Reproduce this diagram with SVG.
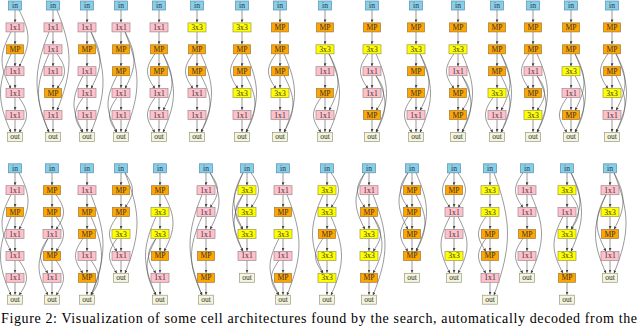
<svg xmlns="http://www.w3.org/2000/svg" xmlns:xlink="http://www.w3.org/1999/xlink" width="640" height="326" viewBox="0 0 640 326">
<style>
.i{fill:#87ceeb;stroke:#5a8fab}
.p{fill:#ffc0cb;stroke:#9a8a8e}
.m{fill:#ffa500;stroke:#9a7a3a}
.y{fill:#ffff00;stroke:#9a9a50}
.o{fill:#f5f5dc;stroke:#9a9a86}
.i,.p,.m,.y,.o{stroke-width:0.7}
text{font-family:"Liberation Serif","Times New Roman",serif;font-size:7.6px;text-anchor:middle;fill:#333;stroke:none}
.e{fill:none;stroke:#555;stroke-width:0.6;marker-end:url(#ah)}
.cap{font-size:14px;text-anchor:start;fill:#000}
</style>
<defs>
<marker id="ah" viewBox="0 0 6 6" refX="6" refY="3" markerWidth="3" markerHeight="3" markerUnits="userSpaceOnUse" orient="auto"><path d="M0,0L6,3L0,6z" fill="#444"/></marker>
<rect id="ri" x="-6.5" y="-4.5" width="13" height="9"/>
<rect id="rp" x="-9" y="-4.5" width="18" height="9"/>
<rect id="rm" x="-8.5" y="-4.5" width="17" height="9"/>
<rect id="ry" x="-9" y="-4.5" width="18" height="9"/>
<rect id="ro" x="-7.5" y="-4.5" width="15" height="9"/>
<path id="a0" class="e" d="M0 4.5V16.9"/>
<path id="a1" class="e" d="M0 26.4V38.8"/>
<path id="a2" class="e" d="M0 48.3V60.7"/>
<path id="a3" class="e" d="M0 70.2V82.6"/>
<path id="a4" class="e" d="M0 92.1V104.5"/>
<path id="a5" class="e" d="M0 114V126.4"/>
<g id="ch7"><use href="#a0"/><use href="#a1"/><use href="#a2"/><use href="#a3"/><use href="#a4"/><use href="#a5"/></g>
<g id="ch6"><use href="#a0"/><use href="#a1"/><use href="#a2"/><use href="#a3"/><use href="#a4"/></g>
<path id="R02" class="e" d="M4 4.5C14 18.4 14 25.4 4 39.3"/>
<path id="R03" class="e" d="M4 4.5C16 27.2 16 38.5 4 61.2"/>
<path id="R04" class="e" d="M4 4.5C18 35.9 18 51.7 4 83.1"/>
<path id="R05" class="e" d="M4 4.5C20 44.7 20 64.8 4 105"/>
<path id="R06" class="e" d="M4 4.5C22 53.5 22 77.9 4 126.9"/>
<path id="R13" class="e" d="M4 26.4C14 40.3 14 47.3 4 61.2"/>
<path id="R14" class="e" d="M4 26.4C16 49.1 16 60.4 4 83.1"/>
<path id="R15" class="e" d="M4 26.4C18 57.8 18 73.6 4 105"/>
<path id="R16" class="e" d="M4 26.4C20 66.6 20 86.7 4 126.9"/>
<path id="R24" class="e" d="M4 48.3C14 62.2 14 69.2 4 83.1"/>
<path id="R25" class="e" d="M4 48.3C16 71 16 82.3 4 105"/>
<path id="R26" class="e" d="M4 48.3C18 79.7 18 95.5 4 126.9"/>
<path id="R35" class="e" d="M4 70.2C14 84.1 14 91.1 4 105"/>
<path id="R36" class="e" d="M4 70.2C16 92.9 16 104.2 4 126.9"/>
<path id="R46" class="e" d="M4 92.1C14 106 14 113 4 126.9"/>
<path id="L02" class="e" d="M-4 4.5C-14 18.4 -14 25.4 -4 39.3"/>
<path id="L03" class="e" d="M-4 4.5C-16 27.2 -16 38.5 -4 61.2"/>
<path id="L04" class="e" d="M-4 4.5C-18 35.9 -18 51.7 -4 83.1"/>
<path id="L13" class="e" d="M-4 26.4C-14 40.3 -14 47.3 -4 61.2"/>
<path id="L14" class="e" d="M-4 26.4C-16 49.1 -16 60.4 -4 83.1"/>
<path id="L15" class="e" d="M-4 26.4C-18 57.8 -18 73.6 -4 105"/>
<path id="L16" class="e" d="M-4 26.4C-20 66.6 -20 86.7 -4 126.9"/>
<path id="L24" class="e" d="M-4 48.3C-14 62.2 -14 69.2 -4 83.1"/>
<path id="L25" class="e" d="M-4 48.3C-16 71 -16 82.3 -4 105"/>
<path id="L26" class="e" d="M-4 48.3C-18 79.7 -18 95.5 -4 126.9"/>
<path id="L35" class="e" d="M-4 70.2C-14 84.1 -14 91.1 -4 105"/>
<path id="L36" class="e" d="M-4 70.2C-16 92.9 -16 104.2 -4 126.9"/>
<path id="L46" class="e" d="M-4 92.1C-14 106 -14 113 -4 126.9"/>
</defs>
<rect width="640" height="326" fill="#fff"/>
<g id="connectors">
<g transform="translate(15,5.5)"><use href="#ch7"/><use href="#R03"/><use href="#L14"/><use href="#L26"/><use href="#R46"/></g>
<g transform="translate(53,5.5)"><use href="#ch7"/><use href="#L16"/><use href="#L26"/><use href="#R24"/><use href="#R05"/></g>
<g transform="translate(87,5.5)"><use href="#ch7"/><use href="#R14"/><use href="#R16"/><use href="#L36"/><use href="#L46"/></g>
<g transform="translate(121,5.5)"><use href="#ch7"/><use href="#R14"/><use href="#R16"/><use href="#L36"/><use href="#L46"/></g>
<g transform="translate(159,5.5)"><use href="#ch7"/><use href="#L24"/><use href="#R25"/><use href="#R26"/><use href="#L46"/></g>
<g transform="translate(197,5.5)"><use href="#ch7"/><use href="#L24"/><use href="#R26"/><use href="#R36"/></g>
<g transform="translate(242,5.5)"><use href="#ch7"/><use href="#L24"/><use href="#R26"/><use href="#R36"/></g>
<g transform="translate(280,5.5)"><use href="#ch7"/><use href="#L24"/><use href="#R26"/><use href="#R36"/></g>
<g transform="translate(325,5.5)"><use href="#ch7"/><use href="#R25"/><use href="#R26"/><use href="#L46"/></g>
<g transform="translate(372,5.5)"><use href="#ch7"/><use href="#L24"/><use href="#R26"/><use href="#R35"/><use href="#R36"/></g>
<g transform="translate(416,5.5)"><use href="#ch7"/><use href="#R25"/><use href="#R26"/><use href="#L46"/></g>
<g transform="translate(458,5.5)"><use href="#ch7"/><use href="#L24"/><use href="#R35"/><use href="#R36"/><use href="#R26"/></g>
<g transform="translate(497,5.5)"><use href="#ch7"/><use href="#R25"/><use href="#R26"/><use href="#R36"/><use href="#L46"/></g>
<g transform="translate(533,5.5)"><use href="#ch7"/><use href="#L24"/><use href="#R35"/><use href="#R36"/><use href="#R26"/></g>
<g transform="translate(571,5.5)"><use href="#ch7"/><use href="#R25"/><use href="#R26"/><use href="#R36"/><use href="#L46"/></g>
<g transform="translate(612,5.5)"><use href="#ch7"/><use href="#L24"/><use href="#R25"/><use href="#R26"/><use href="#R36"/></g>
<g transform="translate(15,168.3)"><use href="#ch7"/><use href="#R03"/><use href="#L14"/><use href="#L26"/><use href="#R46"/></g>
<g transform="translate(52,168.3)"><use href="#ch7"/><use href="#R13"/><use href="#R24"/><use href="#L35"/><use href="#R46"/><use href="#L36"/></g>
<g transform="translate(87,168.3)"><use href="#ch7"/><use href="#R16"/><use href="#R26"/><use href="#L35"/><use href="#R46"/></g>
<g transform="translate(121,168.3)"><use href="#ch6"/><use href="#R02"/><use href="#R05"/><use href="#L24"/><use href="#L35"/></g>
<g transform="translate(160,168.3)"><use href="#ch7"/><use href="#R14"/><use href="#L35"/><use href="#L36"/><use href="#L26"/></g>
<g transform="translate(206,168.3)"><use href="#ch7"/><use href="#R02"/><use href="#R03"/><use href="#L16"/><use href="#L26"/></g>
<g transform="translate(247,168.3)"><use href="#ch6"/><use href="#R02"/><use href="#L03"/><use href="#L04"/><use href="#L13"/><use href="#L14"/></g>
<g transform="translate(283,168.3)"><use href="#ch7"/><use href="#R16"/><use href="#L46"/><use href="#L36"/></g>
<g transform="translate(327,168.3)"><use href="#ch7"/><use href="#R02"/><use href="#L15"/><use href="#L35"/><use href="#R26"/></g>
<g transform="translate(369,168.3)"><use href="#ch7"/><use href="#L02"/><use href="#L03"/><use href="#R16"/><use href="#R24"/><use href="#R25"/></g>
<g transform="translate(412,168.3)"><use href="#ch6"/><use href="#L02"/><use href="#L03"/><use href="#R04"/><use href="#R14"/><use href="#L24"/></g>
<g transform="translate(454,168.3)"><use href="#ch6"/><use href="#L02"/><use href="#R02"/><use href="#L25"/><use href="#R25"/></g>
<g transform="translate(490,168.3)"><use href="#ch7"/><use href="#R06"/><use href="#L35"/><use href="#L24"/></g>
<g transform="translate(527,168.3)"><use href="#ch6"/><use href="#L02"/><use href="#R15"/><use href="#L35"/></g>
<g transform="translate(567,168.3)"><use href="#ch7"/><use href="#R03"/><use href="#R04"/><use href="#R13"/><use href="#L25"/></g>
<g transform="translate(610,168.3)"><use href="#ch6"/><use href="#R03"/><use href="#R05"/><use href="#L14"/><use href="#L15"/></g>
</g>
<g id="nodes">
<g id="T1" transform="translate(15,5.5)">
<g id="T1n0" class="i"><use href="#ri"/><text y="2.5">in</text></g>
<g id="T1n1" class="p" transform="translate(0,21.9)"><use href="#rp"/><text y="2.5">1x1</text></g>
<g id="T1n2" class="m" transform="translate(0,43.8)"><use href="#rm"/><text y="2.5">MP</text></g>
<g id="T1n3" class="p" transform="translate(0,65.7)"><use href="#rp"/><text y="2.5">1x1</text></g>
<g id="T1n4" class="p" transform="translate(0,87.6)"><use href="#rp"/><text y="2.5">1x1</text></g>
<g id="T1n5" class="p" transform="translate(0,109.5)"><use href="#rp"/><text y="2.5">1x1</text></g>
<g id="T1n6" class="o" transform="translate(0,131.4)"><use href="#ro"/><text y="2.5">out</text></g>
</g>
<g id="T2" transform="translate(53,5.5)">
<g id="T2n0" class="i"><use href="#ri"/><text y="2.5">in</text></g>
<g id="T2n1" class="p" transform="translate(0,21.9)"><use href="#rp"/><text y="2.5">1x1</text></g>
<g id="T2n2" class="p" transform="translate(0,43.8)"><use href="#rp"/><text y="2.5">1x1</text></g>
<g id="T2n3" class="p" transform="translate(0,65.7)"><use href="#rp"/><text y="2.5">1x1</text></g>
<g id="T2n4" class="m" transform="translate(0,87.6)"><use href="#rm"/><text y="2.5">MP</text></g>
<g id="T2n5" class="p" transform="translate(0,109.5)"><use href="#rp"/><text y="2.5">1x1</text></g>
<g id="T2n6" class="o" transform="translate(0,131.4)"><use href="#ro"/><text y="2.5">out</text></g>
</g>
<g id="T3" transform="translate(87,5.5)">
<g id="T3n0" class="i"><use href="#ri"/><text y="2.5">in</text></g>
<g id="T3n1" class="p" transform="translate(0,21.9)"><use href="#rp"/><text y="2.5">1x1</text></g>
<g id="T3n2" class="m" transform="translate(0,43.8)"><use href="#rm"/><text y="2.5">MP</text></g>
<g id="T3n3" class="p" transform="translate(0,65.7)"><use href="#rp"/><text y="2.5">1x1</text></g>
<g id="T3n4" class="p" transform="translate(0,87.6)"><use href="#rp"/><text y="2.5">1x1</text></g>
<g id="T3n5" class="p" transform="translate(0,109.5)"><use href="#rp"/><text y="2.5">1x1</text></g>
<g id="T3n6" class="o" transform="translate(0,131.4)"><use href="#ro"/><text y="2.5">out</text></g>
</g>
<g id="T4" transform="translate(121,5.5)">
<g id="T4n0" class="i"><use href="#ri"/><text y="2.5">in</text></g>
<g id="T4n1" class="p" transform="translate(0,21.9)"><use href="#rp"/><text y="2.5">1x1</text></g>
<g id="T4n2" class="m" transform="translate(0,43.8)"><use href="#rm"/><text y="2.5">MP</text></g>
<g id="T4n3" class="m" transform="translate(0,65.7)"><use href="#rm"/><text y="2.5">MP</text></g>
<g id="T4n4" class="p" transform="translate(0,87.6)"><use href="#rp"/><text y="2.5">1x1</text></g>
<g id="T4n5" class="p" transform="translate(0,109.5)"><use href="#rp"/><text y="2.5">1x1</text></g>
<g id="T4n6" class="o" transform="translate(0,131.4)"><use href="#ro"/><text y="2.5">out</text></g>
</g>
<g id="T5" transform="translate(159,5.5)">
<g id="T5n0" class="i"><use href="#ri"/><text y="2.5">in</text></g>
<g id="T5n1" class="p" transform="translate(0,21.9)"><use href="#rp"/><text y="2.5">1x1</text></g>
<g id="T5n2" class="m" transform="translate(0,43.8)"><use href="#rm"/><text y="2.5">MP</text></g>
<g id="T5n3" class="m" transform="translate(0,65.7)"><use href="#rm"/><text y="2.5">MP</text></g>
<g id="T5n4" class="p" transform="translate(0,87.6)"><use href="#rp"/><text y="2.5">1x1</text></g>
<g id="T5n5" class="p" transform="translate(0,109.5)"><use href="#rp"/><text y="2.5">1x1</text></g>
<g id="T5n6" class="o" transform="translate(0,131.4)"><use href="#ro"/><text y="2.5">out</text></g>
</g>
<g id="T6" transform="translate(197,5.5)">
<g id="T6n0" class="i"><use href="#ri"/><text y="2.5">in</text></g>
<g id="T6n1" class="y" transform="translate(0,21.9)"><use href="#ry"/><text y="2.5">3x3</text></g>
<g id="T6n2" class="m" transform="translate(0,43.8)"><use href="#rm"/><text y="2.5">MP</text></g>
<g id="T6n3" class="m" transform="translate(0,65.7)"><use href="#rm"/><text y="2.5">MP</text></g>
<g id="T6n4" class="p" transform="translate(0,87.6)"><use href="#rp"/><text y="2.5">1x1</text></g>
<g id="T6n5" class="p" transform="translate(0,109.5)"><use href="#rp"/><text y="2.5">1x1</text></g>
<g id="T6n6" class="o" transform="translate(0,131.4)"><use href="#ro"/><text y="2.5">out</text></g>
</g>
<g id="T7" transform="translate(242,5.5)">
<g id="T7n0" class="i"><use href="#ri"/><text y="2.5">in</text></g>
<g id="T7n1" class="y" transform="translate(0,21.9)"><use href="#ry"/><text y="2.5">3x3</text></g>
<g id="T7n2" class="m" transform="translate(0,43.8)"><use href="#rm"/><text y="2.5">MP</text></g>
<g id="T7n3" class="m" transform="translate(0,65.7)"><use href="#rm"/><text y="2.5">MP</text></g>
<g id="T7n4" class="y" transform="translate(0,87.6)"><use href="#ry"/><text y="2.5">3x3</text></g>
<g id="T7n5" class="p" transform="translate(0,109.5)"><use href="#rp"/><text y="2.5">1x1</text></g>
<g id="T7n6" class="o" transform="translate(0,131.4)"><use href="#ro"/><text y="2.5">out</text></g>
</g>
<g id="T8" transform="translate(280,5.5)">
<g id="T8n0" class="i"><use href="#ri"/><text y="2.5">in</text></g>
<g id="T8n1" class="m" transform="translate(0,21.9)"><use href="#rm"/><text y="2.5">MP</text></g>
<g id="T8n2" class="m" transform="translate(0,43.8)"><use href="#rm"/><text y="2.5">MP</text></g>
<g id="T8n3" class="m" transform="translate(0,65.7)"><use href="#rm"/><text y="2.5">MP</text></g>
<g id="T8n4" class="y" transform="translate(0,87.6)"><use href="#ry"/><text y="2.5">3x3</text></g>
<g id="T8n5" class="p" transform="translate(0,109.5)"><use href="#rp"/><text y="2.5">1x1</text></g>
<g id="T8n6" class="o" transform="translate(0,131.4)"><use href="#ro"/><text y="2.5">out</text></g>
</g>
<g id="T9" transform="translate(325,5.5)">
<g id="T9n0" class="i"><use href="#ri"/><text y="2.5">in</text></g>
<g id="T9n1" class="m" transform="translate(0,21.9)"><use href="#rm"/><text y="2.5">MP</text></g>
<g id="T9n2" class="y" transform="translate(0,43.8)"><use href="#ry"/><text y="2.5">3x3</text></g>
<g id="T9n3" class="p" transform="translate(0,65.7)"><use href="#rp"/><text y="2.5">1x1</text></g>
<g id="T9n4" class="m" transform="translate(0,87.6)"><use href="#rm"/><text y="2.5">MP</text></g>
<g id="T9n5" class="p" transform="translate(0,109.5)"><use href="#rp"/><text y="2.5">1x1</text></g>
<g id="T9n6" class="o" transform="translate(0,131.4)"><use href="#ro"/><text y="2.5">out</text></g>
</g>
<g id="T10" transform="translate(372,5.5)">
<g id="T10n0" class="i"><use href="#ri"/><text y="2.5">in</text></g>
<g id="T10n1" class="m" transform="translate(0,21.9)"><use href="#rm"/><text y="2.5">MP</text></g>
<g id="T10n2" class="y" transform="translate(0,43.8)"><use href="#ry"/><text y="2.5">3x3</text></g>
<g id="T10n3" class="p" transform="translate(0,65.7)"><use href="#rp"/><text y="2.5">1x1</text></g>
<g id="T10n4" class="p" transform="translate(0,87.6)"><use href="#rp"/><text y="2.5">1x1</text></g>
<g id="T10n5" class="m" transform="translate(0,109.5)"><use href="#rm"/><text y="2.5">MP</text></g>
<g id="T10n6" class="o" transform="translate(0,131.4)"><use href="#ro"/><text y="2.5">out</text></g>
</g>
<g id="T11" transform="translate(416,5.5)">
<g id="T11n0" class="i"><use href="#ri"/><text y="2.5">in</text></g>
<g id="T11n1" class="m" transform="translate(0,21.9)"><use href="#rm"/><text y="2.5">MP</text></g>
<g id="T11n2" class="y" transform="translate(0,43.8)"><use href="#ry"/><text y="2.5">3x3</text></g>
<g id="T11n3" class="m" transform="translate(0,65.7)"><use href="#rm"/><text y="2.5">MP</text></g>
<g id="T11n4" class="m" transform="translate(0,87.6)"><use href="#rm"/><text y="2.5">MP</text></g>
<g id="T11n5" class="p" transform="translate(0,109.5)"><use href="#rp"/><text y="2.5">1x1</text></g>
<g id="T11n6" class="o" transform="translate(0,131.4)"><use href="#ro"/><text y="2.5">out</text></g>
</g>
<g id="T12" transform="translate(458,5.5)">
<g id="T12n0" class="i"><use href="#ri"/><text y="2.5">in</text></g>
<g id="T12n1" class="m" transform="translate(0,21.9)"><use href="#rm"/><text y="2.5">MP</text></g>
<g id="T12n2" class="y" transform="translate(0,43.8)"><use href="#ry"/><text y="2.5">3x3</text></g>
<g id="T12n3" class="p" transform="translate(0,65.7)"><use href="#rp"/><text y="2.5">1x1</text></g>
<g id="T12n4" class="m" transform="translate(0,87.6)"><use href="#rm"/><text y="2.5">MP</text></g>
<g id="T12n5" class="m" transform="translate(0,109.5)"><use href="#rm"/><text y="2.5">MP</text></g>
<g id="T12n6" class="o" transform="translate(0,131.4)"><use href="#ro"/><text y="2.5">out</text></g>
</g>
<g id="T13" transform="translate(497,5.5)">
<g id="T13n0" class="i"><use href="#ri"/><text y="2.5">in</text></g>
<g id="T13n1" class="m" transform="translate(0,21.9)"><use href="#rm"/><text y="2.5">MP</text></g>
<g id="T13n2" class="m" transform="translate(0,43.8)"><use href="#rm"/><text y="2.5">MP</text></g>
<g id="T13n3" class="m" transform="translate(0,65.7)"><use href="#rm"/><text y="2.5">MP</text></g>
<g id="T13n4" class="y" transform="translate(0,87.6)"><use href="#ry"/><text y="2.5">3x3</text></g>
<g id="T13n5" class="p" transform="translate(0,109.5)"><use href="#rp"/><text y="2.5">1x1</text></g>
<g id="T13n6" class="o" transform="translate(0,131.4)"><use href="#ro"/><text y="2.5">out</text></g>
</g>
<g id="T14" transform="translate(533,5.5)">
<g id="T14n0" class="i"><use href="#ri"/><text y="2.5">in</text></g>
<g id="T14n1" class="m" transform="translate(0,21.9)"><use href="#rm"/><text y="2.5">MP</text></g>
<g id="T14n2" class="m" transform="translate(0,43.8)"><use href="#rm"/><text y="2.5">MP</text></g>
<g id="T14n3" class="p" transform="translate(0,65.7)"><use href="#rp"/><text y="2.5">1x1</text></g>
<g id="T14n4" class="m" transform="translate(0,87.6)"><use href="#rm"/><text y="2.5">MP</text></g>
<g id="T14n5" class="y" transform="translate(0,109.5)"><use href="#ry"/><text y="2.5">3x3</text></g>
<g id="T14n6" class="o" transform="translate(0,131.4)"><use href="#ro"/><text y="2.5">out</text></g>
</g>
<g id="T15" transform="translate(571,5.5)">
<g id="T15n0" class="i"><use href="#ri"/><text y="2.5">in</text></g>
<g id="T15n1" class="m" transform="translate(0,21.9)"><use href="#rm"/><text y="2.5">MP</text></g>
<g id="T15n2" class="m" transform="translate(0,43.8)"><use href="#rm"/><text y="2.5">MP</text></g>
<g id="T15n3" class="y" transform="translate(0,65.7)"><use href="#ry"/><text y="2.5">3x3</text></g>
<g id="T15n4" class="p" transform="translate(0,87.6)"><use href="#rp"/><text y="2.5">1x1</text></g>
<g id="T15n5" class="m" transform="translate(0,109.5)"><use href="#rm"/><text y="2.5">MP</text></g>
<g id="T15n6" class="o" transform="translate(0,131.4)"><use href="#ro"/><text y="2.5">out</text></g>
</g>
<g id="T16" transform="translate(612,5.5)">
<g id="T16n0" class="i"><use href="#ri"/><text y="2.5">in</text></g>
<g id="T16n1" class="m" transform="translate(0,21.9)"><use href="#rm"/><text y="2.5">MP</text></g>
<g id="T16n2" class="m" transform="translate(0,43.8)"><use href="#rm"/><text y="2.5">MP</text></g>
<g id="T16n3" class="m" transform="translate(0,65.7)"><use href="#rm"/><text y="2.5">MP</text></g>
<g id="T16n4" class="y" transform="translate(0,87.6)"><use href="#ry"/><text y="2.5">3x3</text></g>
<g id="T16n5" class="p" transform="translate(0,109.5)"><use href="#rp"/><text y="2.5">1x1</text></g>
<g id="T16n6" class="o" transform="translate(0,131.4)"><use href="#ro"/><text y="2.5">out</text></g>
</g>
<g id="B1" transform="translate(15,168.3)">
<g id="B1n0" class="i"><use href="#ri"/><text y="2.5">in</text></g>
<g id="B1n1" class="p" transform="translate(0,21.9)"><use href="#rp"/><text y="2.5">1x1</text></g>
<g id="B1n2" class="m" transform="translate(0,43.8)"><use href="#rm"/><text y="2.5">MP</text></g>
<g id="B1n3" class="p" transform="translate(0,65.7)"><use href="#rp"/><text y="2.5">1x1</text></g>
<g id="B1n4" class="p" transform="translate(0,87.6)"><use href="#rp"/><text y="2.5">1x1</text></g>
<g id="B1n5" class="p" transform="translate(0,109.5)"><use href="#rp"/><text y="2.5">1x1</text></g>
<g id="B1n6" class="o" transform="translate(0,131.4)"><use href="#ro"/><text y="2.5">out</text></g>
</g>
<g id="B2" transform="translate(52,168.3)">
<g id="B2n0" class="i"><use href="#ri"/><text y="2.5">in</text></g>
<g id="B2n1" class="m" transform="translate(0,21.9)"><use href="#rm"/><text y="2.5">MP</text></g>
<g id="B2n2" class="m" transform="translate(0,43.8)"><use href="#rm"/><text y="2.5">MP</text></g>
<g id="B2n3" class="p" transform="translate(0,65.7)"><use href="#rp"/><text y="2.5">1x1</text></g>
<g id="B2n4" class="m" transform="translate(0,87.6)"><use href="#rm"/><text y="2.5">MP</text></g>
<g id="B2n5" class="p" transform="translate(0,109.5)"><use href="#rp"/><text y="2.5">1x1</text></g>
<g id="B2n6" class="o" transform="translate(0,131.4)"><use href="#ro"/><text y="2.5">out</text></g>
</g>
<g id="B3" transform="translate(87,168.3)">
<g id="B3n0" class="i"><use href="#ri"/><text y="2.5">in</text></g>
<g id="B3n1" class="p" transform="translate(0,21.9)"><use href="#rp"/><text y="2.5">1x1</text></g>
<g id="B3n2" class="m" transform="translate(0,43.8)"><use href="#rm"/><text y="2.5">MP</text></g>
<g id="B3n3" class="m" transform="translate(0,65.7)"><use href="#rm"/><text y="2.5">MP</text></g>
<g id="B3n4" class="p" transform="translate(0,87.6)"><use href="#rp"/><text y="2.5">1x1</text></g>
<g id="B3n5" class="m" transform="translate(0,109.5)"><use href="#rm"/><text y="2.5">MP</text></g>
<g id="B3n6" class="o" transform="translate(0,131.4)"><use href="#ro"/><text y="2.5">out</text></g>
</g>
<g id="B4" transform="translate(121,168.3)">
<g id="B4n0" class="i"><use href="#ri"/><text y="2.5">in</text></g>
<g id="B4n1" class="m" transform="translate(0,21.9)"><use href="#rm"/><text y="2.5">MP</text></g>
<g id="B4n2" class="m" transform="translate(0,43.8)"><use href="#rm"/><text y="2.5">MP</text></g>
<g id="B4n3" class="y" transform="translate(0,65.7)"><use href="#ry"/><text y="2.5">3x3</text></g>
<g id="B4n4" class="p" transform="translate(0,87.6)"><use href="#rp"/><text y="2.5">1x1</text></g>
<g id="B4n5" class="o" transform="translate(0,109.5)"><use href="#ro"/><text y="2.5">out</text></g>
</g>
<g id="B5" transform="translate(160,168.3)">
<g id="B5n0" class="i"><use href="#ri"/><text y="2.5">in</text></g>
<g id="B5n1" class="m" transform="translate(0,21.9)"><use href="#rm"/><text y="2.5">MP</text></g>
<g id="B5n2" class="y" transform="translate(0,43.8)"><use href="#ry"/><text y="2.5">3x3</text></g>
<g id="B5n3" class="y" transform="translate(0,65.7)"><use href="#ry"/><text y="2.5">3x3</text></g>
<g id="B5n4" class="m" transform="translate(0,87.6)"><use href="#rm"/><text y="2.5">MP</text></g>
<g id="B5n5" class="p" transform="translate(0,109.5)"><use href="#rp"/><text y="2.5">1x1</text></g>
<g id="B5n6" class="o" transform="translate(0,131.4)"><use href="#ro"/><text y="2.5">out</text></g>
</g>
<g id="B6" transform="translate(206,168.3)">
<g id="B6n0" class="i"><use href="#ri"/><text y="2.5">in</text></g>
<g id="B6n1" class="p" transform="translate(0,21.9)"><use href="#rp"/><text y="2.5">1x1</text></g>
<g id="B6n2" class="p" transform="translate(0,43.8)"><use href="#rp"/><text y="2.5">1x1</text></g>
<g id="B6n3" class="p" transform="translate(0,65.7)"><use href="#rp"/><text y="2.5">1x1</text></g>
<g id="B6n4" class="m" transform="translate(0,87.6)"><use href="#rm"/><text y="2.5">MP</text></g>
<g id="B6n5" class="m" transform="translate(0,109.5)"><use href="#rm"/><text y="2.5">MP</text></g>
<g id="B6n6" class="o" transform="translate(0,131.4)"><use href="#ro"/><text y="2.5">out</text></g>
</g>
<g id="B7" transform="translate(247,168.3)">
<g id="B7n0" class="i"><use href="#ri"/><text y="2.5">in</text></g>
<g id="B7n1" class="y" transform="translate(0,21.9)"><use href="#ry"/><text y="2.5">3x3</text></g>
<g id="B7n2" class="y" transform="translate(0,43.8)"><use href="#ry"/><text y="2.5">3x3</text></g>
<g id="B7n3" class="y" transform="translate(0,65.7)"><use href="#ry"/><text y="2.5">3x3</text></g>
<g id="B7n4" class="p" transform="translate(0,87.6)"><use href="#rp"/><text y="2.5">1x1</text></g>
<g id="B7n5" class="o" transform="translate(0,109.5)"><use href="#ro"/><text y="2.5">out</text></g>
</g>
<g id="B8" transform="translate(283,168.3)">
<g id="B8n0" class="i"><use href="#ri"/><text y="2.5">in</text></g>
<g id="B8n1" class="p" transform="translate(0,21.9)"><use href="#rp"/><text y="2.5">1x1</text></g>
<g id="B8n2" class="m" transform="translate(0,43.8)"><use href="#rm"/><text y="2.5">MP</text></g>
<g id="B8n3" class="y" transform="translate(0,65.7)"><use href="#ry"/><text y="2.5">3x3</text></g>
<g id="B8n4" class="p" transform="translate(0,87.6)"><use href="#rp"/><text y="2.5">1x1</text></g>
<g id="B8n5" class="m" transform="translate(0,109.5)"><use href="#rm"/><text y="2.5">MP</text></g>
<g id="B8n6" class="o" transform="translate(0,131.4)"><use href="#ro"/><text y="2.5">out</text></g>
</g>
<g id="B9" transform="translate(327,168.3)">
<g id="B9n0" class="i"><use href="#ri"/><text y="2.5">in</text></g>
<g id="B9n1" class="y" transform="translate(0,21.9)"><use href="#ry"/><text y="2.5">3x3</text></g>
<g id="B9n2" class="y" transform="translate(0,43.8)"><use href="#ry"/><text y="2.5">3x3</text></g>
<g id="B9n3" class="m" transform="translate(0,65.7)"><use href="#rm"/><text y="2.5">MP</text></g>
<g id="B9n4" class="y" transform="translate(0,87.6)"><use href="#ry"/><text y="2.5">3x3</text></g>
<g id="B9n5" class="y" transform="translate(0,109.5)"><use href="#ry"/><text y="2.5">3x3</text></g>
<g id="B9n6" class="o" transform="translate(0,131.4)"><use href="#ro"/><text y="2.5">out</text></g>
</g>
<g id="B10" transform="translate(369,168.3)">
<g id="B10n0" class="i"><use href="#ri"/><text y="2.5">in</text></g>
<g id="B10n1" class="p" transform="translate(0,21.9)"><use href="#rp"/><text y="2.5">1x1</text></g>
<g id="B10n2" class="m" transform="translate(0,43.8)"><use href="#rm"/><text y="2.5">MP</text></g>
<g id="B10n3" class="y" transform="translate(0,65.7)"><use href="#ry"/><text y="2.5">3x3</text></g>
<g id="B10n4" class="y" transform="translate(0,87.6)"><use href="#ry"/><text y="2.5">3x3</text></g>
<g id="B10n5" class="m" transform="translate(0,109.5)"><use href="#rm"/><text y="2.5">MP</text></g>
<g id="B10n6" class="o" transform="translate(0,131.4)"><use href="#ro"/><text y="2.5">out</text></g>
</g>
<g id="B11" transform="translate(412,168.3)">
<g id="B11n0" class="i"><use href="#ri"/><text y="2.5">in</text></g>
<g id="B11n1" class="m" transform="translate(0,21.9)"><use href="#rm"/><text y="2.5">MP</text></g>
<g id="B11n2" class="m" transform="translate(0,43.8)"><use href="#rm"/><text y="2.5">MP</text></g>
<g id="B11n3" class="m" transform="translate(0,65.7)"><use href="#rm"/><text y="2.5">MP</text></g>
<g id="B11n4" class="m" transform="translate(0,87.6)"><use href="#rm"/><text y="2.5">MP</text></g>
<g id="B11n5" class="o" transform="translate(0,109.5)"><use href="#ro"/><text y="2.5">out</text></g>
</g>
<g id="B12" transform="translate(454,168.3)">
<g id="B12n0" class="i"><use href="#ri"/><text y="2.5">in</text></g>
<g id="B12n1" class="m" transform="translate(0,21.9)"><use href="#rm"/><text y="2.5">MP</text></g>
<g id="B12n2" class="p" transform="translate(0,43.8)"><use href="#rp"/><text y="2.5">1x1</text></g>
<g id="B12n3" class="p" transform="translate(0,65.7)"><use href="#rp"/><text y="2.5">1x1</text></g>
<g id="B12n4" class="y" transform="translate(0,87.6)"><use href="#ry"/><text y="2.5">3x3</text></g>
<g id="B12n5" class="o" transform="translate(0,109.5)"><use href="#ro"/><text y="2.5">out</text></g>
</g>
<g id="B13" transform="translate(490,168.3)">
<g id="B13n0" class="i"><use href="#ri"/><text y="2.5">in</text></g>
<g id="B13n1" class="y" transform="translate(0,21.9)"><use href="#ry"/><text y="2.5">3x3</text></g>
<g id="B13n2" class="y" transform="translate(0,43.8)"><use href="#ry"/><text y="2.5">3x3</text></g>
<g id="B13n3" class="m" transform="translate(0,65.7)"><use href="#rm"/><text y="2.5">MP</text></g>
<g id="B13n4" class="m" transform="translate(0,87.6)"><use href="#rm"/><text y="2.5">MP</text></g>
<g id="B13n5" class="p" transform="translate(0,109.5)"><use href="#rp"/><text y="2.5">1x1</text></g>
<g id="B13n6" class="o" transform="translate(0,131.4)"><use href="#ro"/><text y="2.5">out</text></g>
</g>
<g id="B14" transform="translate(527,168.3)">
<g id="B14n0" class="i"><use href="#ri"/><text y="2.5">in</text></g>
<g id="B14n1" class="p" transform="translate(0,21.9)"><use href="#rp"/><text y="2.5">1x1</text></g>
<g id="B14n2" class="p" transform="translate(0,43.8)"><use href="#rp"/><text y="2.5">1x1</text></g>
<g id="B14n3" class="m" transform="translate(0,65.7)"><use href="#rm"/><text y="2.5">MP</text></g>
<g id="B14n4" class="p" transform="translate(0,87.6)"><use href="#rp"/><text y="2.5">1x1</text></g>
<g id="B14n5" class="o" transform="translate(0,109.5)"><use href="#ro"/><text y="2.5">out</text></g>
</g>
<g id="B15" transform="translate(567,168.3)">
<g id="B15n0" class="i"><use href="#ri"/><text y="2.5">in</text></g>
<g id="B15n1" class="y" transform="translate(0,21.9)"><use href="#ry"/><text y="2.5">3x3</text></g>
<g id="B15n2" class="p" transform="translate(0,43.8)"><use href="#rp"/><text y="2.5">1x1</text></g>
<g id="B15n3" class="y" transform="translate(0,65.7)"><use href="#ry"/><text y="2.5">3x3</text></g>
<g id="B15n4" class="y" transform="translate(0,87.6)"><use href="#ry"/><text y="2.5">3x3</text></g>
<g id="B15n5" class="m" transform="translate(0,109.5)"><use href="#rm"/><text y="2.5">MP</text></g>
<g id="B15n6" class="o" transform="translate(0,131.4)"><use href="#ro"/><text y="2.5">out</text></g>
</g>
<g id="B16" transform="translate(610,168.3)">
<g id="B16n0" class="i"><use href="#ri"/><text y="2.5">in</text></g>
<g id="B16n1" class="p" transform="translate(0,21.9)"><use href="#rp"/><text y="2.5">1x1</text></g>
<g id="B16n2" class="y" transform="translate(0,43.8)"><use href="#ry"/><text y="2.5">3x3</text></g>
<g id="B16n3" class="m" transform="translate(0,65.7)"><use href="#rm"/><text y="2.5">MP</text></g>
<g id="B16n4" class="p" transform="translate(0,87.6)"><use href="#rp"/><text y="2.5">1x1</text></g>
<g id="B16n5" class="o" transform="translate(0,109.5)"><use href="#ro"/><text y="2.5">out</text></g>
</g>
</g>
<text class="cap" x="1" y="322.5" textLength="636" lengthAdjust="spacing">Figure 2: Visualization of some cell architectures found by the search, automatically decoded from the</text>
</svg>
